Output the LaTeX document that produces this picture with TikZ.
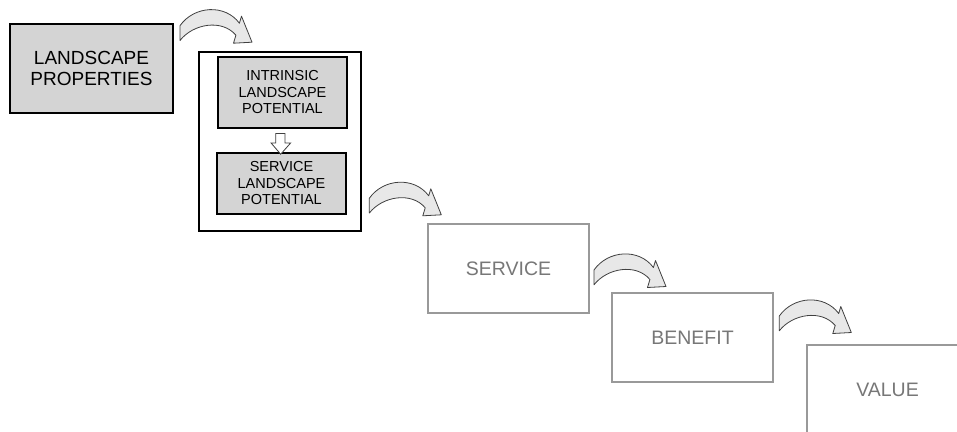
\documentclass[tikz,border=0pt]{standalone}
\usepackage{fontspec}
\setmainfont{Liberation Sans}
\definecolor{boxgray}{HTML}{D4D4D4}
\definecolor{linegray}{HTML}{999999}
\definecolor{textgray}{HTML}{777777}
\definecolor{arrowgray}{HTML}{E8E8E8}
\tikzset{
  bendarrow/.pic={
    \draw[fill=arrowgray, draw=black!75, line width=0.8pt, line join=round]
      (0,0) .. controls (14,-20) and (45,-22) .. (59.4,-2.5) -- (61.5,-9.5) -- (72,16.5)
      -- (53.5,17.5) -- (55.9,9.5) .. controls (42,-7) and (13,-2) .. (0,14.8) -- cycle;
  }
}
\begin{document}
\begin{tikzpicture}[x=1pt, y=-1pt,
    darkbox/.style={rectangle, draw=black, fill=boxgray, line width=2.4pt, align=center, inner sep=0pt},
    frame/.style={rectangle, draw=black, fill=white, line width=1.7pt, inner sep=0pt},
    lightbox/.style={rectangle, draw=linegray, fill=white, line width=1.8pt, text=textgray, align=center, inner sep=0pt, font=\fontsize{19.5}{21}\selectfont}]
  \useasboundingbox (0,0) rectangle (957,431);
  \clip (0,0) rectangle (957,431);
  \node[darkbox, minimum width=163pt, minimum height=89pt, font=\fontsize{19}{21}\selectfont] (lp) at (91.5,68.5) {LANDSCAPE\\PROPERTIES};
  \node[frame, minimum width=162pt, minimum height=179pt] (pot) at (280,141.5) {};
  \node[darkbox, minimum width=129pt, minimum height=71pt, font=\fontsize{14.5}{16.5}\selectfont] (ilp) at (282.5,92.5) {INTRINSIC\\LANDSCAPE\\POTENTIAL};
  \node[darkbox, minimum width=129pt, minimum height=61pt, font=\fontsize{14.5}{16.5}\selectfont] (slp) at (281.5,183.5) {SERVICE\\LANDSCAPE\\POTENTIAL};
  \draw[fill=white, draw=black!75, line width=0.8pt] (ilp.south) ++(-6.8,4.3) -- ++(9.3,0) -- ++(0,9.4) -- ++(5.7,0)
    -- ++(-10,11.3) -- ++(-9.7,-11.3) -- ++(4.7,0) -- cycle;
  \node[lightbox, minimum width=161pt, minimum height=89pt] (srv) at (508.5,268.5) {SERVICE};
  \node[lightbox, minimum width=161pt, minimum height=89pt] (ben) at (692.5,337.5) {BENEFIT};
  \node[lightbox, minimum width=161pt, minimum height=89pt] (val) at (887.5,389.5) {VALUE};
  \path (180,25.7) pic {bendarrow};
  \path (369.3,198.3) pic {bendarrow};
  \path (594,270) pic {bendarrow};
  \path (779.3,316) pic {bendarrow};
\end{tikzpicture}
\end{document}
